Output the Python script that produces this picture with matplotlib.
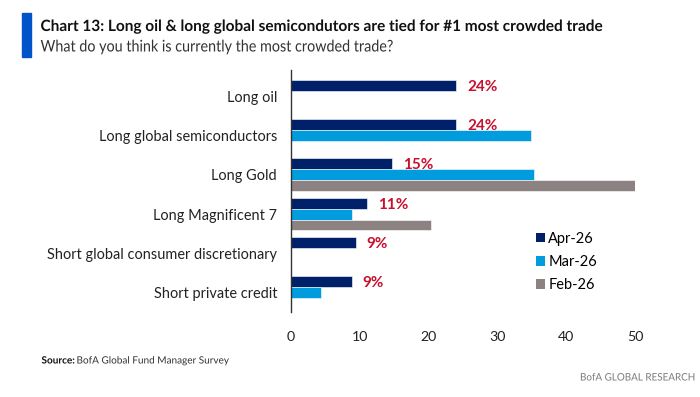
import matplotlib
matplotlib.use("Agg")
import matplotlib.pyplot as plt
import numpy as np
from matplotlib.patches import Rectangle, Patch
from matplotlib.patheffects import AbstractPathEffect
from matplotlib.transforms import Affine2D

categories = ["Long oil", "Long global semiconductors", "Long Gold", "Long Magnificent 7",
              "Short global consumer discretionary", "Short private credit"]
apr26 = [24, 24, 14.7, 11.1, 9.4, 8.8]
mar26 = [np.nan, 34.9, 35.3, 8.8, np.nan, 4.4]
feb26 = [np.nan, np.nan, 50, 20.4, np.nan, np.nan]
apr_labels = ["24%", "24%", "15%", "11%", "9%", "9%"]
series_names = ["Apr-26", "Mar-26", "Feb-26"]
colors = ["#002169", "#009CDE", "#8C8282"]
xticks = [0, 10, 20, 30, 40, 50]

body = ["Lato", "DejaVu Sans"]

W, H = 700, 397
fig = plt.figure(figsize=(7, 3.97), dpi=100)
ax = fig.add_axes([291/W, 1-312/H, (635-291)/W, (312-70)/H])

y = np.arange(len(categories))
h = 0.28
for off, vals, col in zip([-h, 0, h], [apr26, mar26, feb26], colors):
    v = np.nan_to_num(np.array(vals, dtype=float))
    ax.barh(y + off, v, height=h, color=col, edgecolor="white", linewidth=0.4)

for yi, v, lab in zip(y, apr26, apr_labels):
    ax.text(v + 1.6, yi - h + 0.04, lab, color="#C8102E", fontweight="bold",
            fontsize=11, family=body, va="center", ha="left")

ax.set_xlim(0, 50)
ax.set_ylim(len(categories) - 0.5, -0.676)
ax.set_yticks(y)
ax.set_yticklabels(categories, family=body, fontsize=10.45, color="#222222")
ax.set_xticks(xticks)
ax.set_xticklabels([str(t) for t in xticks], family=body, fontsize=10.2, color="#222222")
ax.tick_params(axis="y", length=0, pad=10)
ax.tick_params(axis="x", length=0, pad=13.5)
for s in ["top", "right", "bottom"]:
    ax.spines[s].set_visible(False)
ax.spines["left"].set_color("#333333")
ax.spines["left"].set_linewidth(1.0)

handles = [Patch(facecolor=c, edgecolor="none") for c in colors]
fig.legend(handles, series_names, loc="upper left", bbox_to_anchor=(536/W, 1-232/H),
           frameon=False, prop={"family": body, "size": 10.5}, handlelength=0.6,
           handleheight=0.6, handletextpad=0.25, labelspacing=0.62, borderaxespad=0,
           borderpad=0)

# header bar
fig.patches.append(Rectangle((22/W, 1-57/H), 9/W, 44/H, transform=fig.transFigure,
                             color="#0053C8", zorder=5))


class HCompress(AbstractPathEffect):
    """Squeeze glyph outlines horizontally about an anchor x (condensed look)."""
    def __init__(self, sx, x0):
        super().__init__()
        self.sx, self.x0 = sx, x0

    def draw_path(self, renderer, gc, tpath, affine, rgbFace=None):
        aff = affine + Affine2D().translate(-self.x0, 0).scale(self.sx, 1).translate(self.x0, 0)
        renderer.draw_path(gc, tpath, aff, rgbFace)


fig.canvas.draw()
renderer = fig.canvas.get_renderer()


def condensed_text(x, yy, s, target_w, size, ha="left", **kw):
    t = fig.text(x/W, 1-yy/H, s, fontsize=size, va="center", ha=ha, family=body, **kw)
    w = t.get_window_extent(renderer).width
    sx = min(1.0, target_w / w) if w > 0 else 1.0
    t.set_path_effects([HCompress(sx, x)])
    return t, sx, w


condensed_text(40.5, 27, "Chart 13: Long oil & long global semicondutors are tied for #1 most crowded trade",
               562, 11.2, fontweight="bold", color="#111111")
condensed_text(40.5, 47.5, "What do you think is currently the most crowded trade?",
               353, 11.6, color="#333333")

_, sx_src, w_src = condensed_text(41.5, 361, "Source:", 36.6, 7.2, fontweight="bold", color="#111111")
condensed_text(41.5 + w_src * sx_src + 1.5, 361, "BofA Global Fund Manager Survey", 158, 7.2,
               color="#333333")
condensed_text(694, 378, "BofA GLOBAL RESEARCH", 114, 7.4, ha="right", color="#7a7a7a")

fig.savefig("out.png", dpi=100)
